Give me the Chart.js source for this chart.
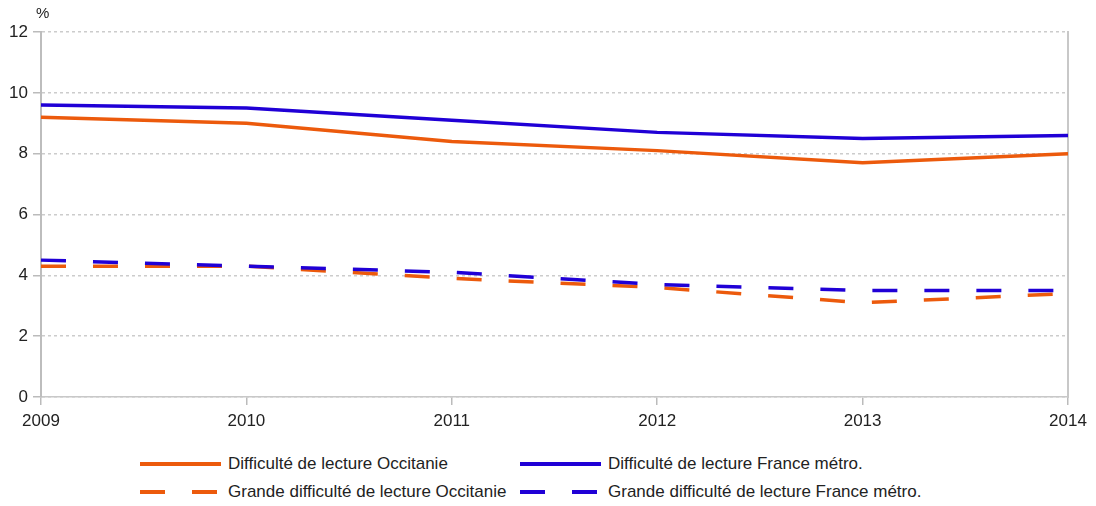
<!DOCTYPE html>
<html lang="fr">
<head>
<meta charset="utf-8">
<title>Difficulté de lecture</title>
<script src="https://cdn.jsdelivr.net/npm/chart.js@4/dist/chart.umd.min.js"></script>
<style>
    body { margin: 0; background: #fff; font-family: 'Liberation Sans', Arial, sans-serif; color: #222; }
    #wrap { position: relative; width: 1096px; height: 506px; }
    #chart { position: absolute; left: 0; top: 0; }
    #unit { position: absolute; left: 36px; top: 4px; font-size: 15px; }
    .leg { position: absolute; display: flex; align-items: center; font-size: 17px; white-space: nowrap; }
    .leg svg { margin-right: 6px; }
</style>
</head>
<body>
<div id="wrap">
    <canvas id="chart" width="1096" height="440"></canvas>
    <div id="unit">%</div>
    <div id="legend"></div>
</div>
<script>
const years = ['2009', '2010', '2011', '2012', '2013', '2014'];
const occitanie = [9.2, 9.0, 8.4, 8.1, 7.7, 8.0];
const franceMetro = [9.6, 9.5, 9.1, 8.7, 8.5, 8.6];
const grandeOccitanie = [4.3, 4.3, 3.9, 3.6, 3.1, 3.4];
const grandeFrance = [4.5, 4.3, 4.1, 3.7, 3.5, 3.5];
const yTicks = [0, 2, 4, 6, 8, 10, 12];

const ORANGE = '#ec5a0c';
const BLUE = '#2000d6';
const DASH = [25, 27];
const FONT = "'Liberation Sans', Arial, sans-serif";

const series = [
    { label: 'Difficulté de lecture Occitanie', data: occitanie, color: ORANGE, dash: [], order: 3, left: 140, top: 452 },
    { label: 'Difficulté de lecture France métro.', data: franceMetro, color: BLUE, dash: [], order: 2, left: 520, top: 452 },
    { label: 'Grande difficulté de lecture Occitanie', data: grandeOccitanie, color: ORANGE, dash: DASH, order: 1, left: 140, top: 480 },
    { label: 'Grande difficulté de lecture France métro.', data: grandeFrance, color: BLUE, dash: DASH, order: 0, left: 520, top: 480 }
];

// legend built from the same series list
const legend = document.getElementById('legend');
series.forEach(s => {
    const dash = s.dash.length ? `stroke-dasharray="${s.dash.join(' ')}"` : '';
    legend.insertAdjacentHTML('beforeend', `
        <div class="leg" style="left:${s.left}px; top:${s.top}px; height:24px;">
            <svg width="82" height="8"><line x1="0" y1="4" x2="81" y2="4" stroke="${s.color}" stroke-width="4" ${dash}/></svg>
            <span>${s.label}</span>
        </div>`);
});

new Chart(document.getElementById('chart'), {
    type: 'line',
    data: {
        labels: years,
        datasets: series.map(s => ({
            label: s.label,
            data: s.data,
            borderColor: s.color,
            backgroundColor: s.color,
            borderWidth: 3.5,
            borderDash: s.dash,
            pointRadius: 0,
            tension: 0,
            fill: false,
            order: s.order
        }))
    },
    options: {
        responsive: false,
        animation: false,
        layout: { padding: { top: 32, right: 28, left: 0, bottom: 0 } },
        plugins: { legend: { display: false }, tooltip: { enabled: false } },
        scales: {
            x: {
                offset: false,
                afterFit: s => { s.height = 43; },
                grid: { display: true, drawOnChartArea: false, drawTicks: true, tickLength: 8, color: '#bbb', lineWidth: 1.5 },
                border: { display: true, color: '#c8c8c8', width: 1.5 },
                ticks: { color: '#222', font: { family: FONT, size: 17 }, padding: 6, maxRotation: 0, autoSkip: false }
            },
            y: {
                min: 0,
                max: 12,
                afterFit: s => { s.width = 41; },
                afterBuildTicks: s => { s.ticks = yTicks.map(v => ({ value: v })); },
                grid: { color: '#cccccc', lineWidth: 1.5, tickLength: 8, tickColor: '#bbb' },
                border: { display: true, color: '#bdbdbd', width: 2, dash: [3, 3] },
                ticks: { color: '#222', font: { family: FONT, size: 17 }, padding: 5 }
            },
            y2: {
                position: 'right',
                display: true,
                afterFit: s => { s.width = 0; },
                grid: { display: false },
                ticks: { display: false },
                border: { display: true, color: '#c8c8c8', width: 2 }
            }
        }
    }
});
</script>
</body>
</html>
